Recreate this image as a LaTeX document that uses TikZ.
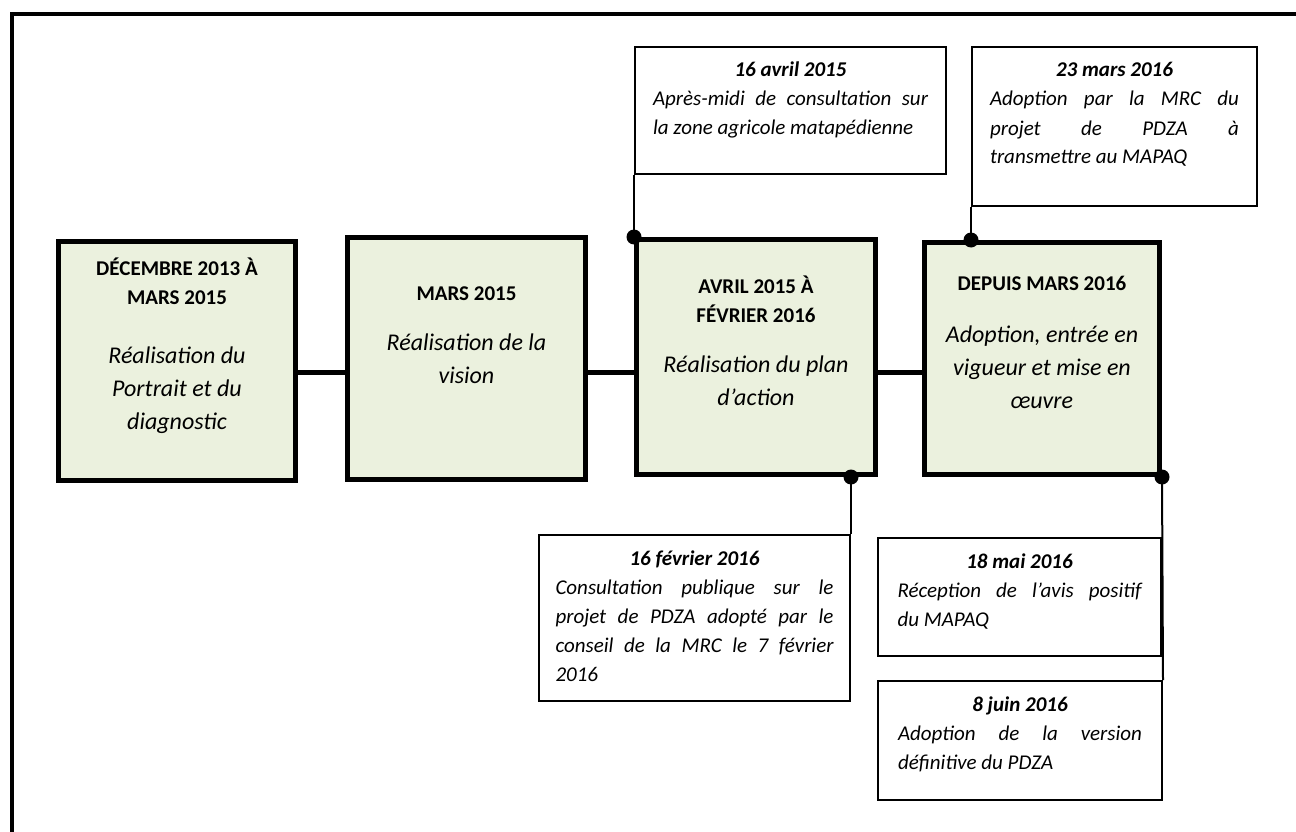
\documentclass[tikz,border=0pt]{standalone}
\usepackage{fontspec}
\setmainfont{Carlito}
\usepackage{xcolor}
\definecolor{phasefill}{HTML}{EBF1DE}

% text of a phase box: offset, gap, header, body
\newcommand{\phasetxt}[4]{%
  \begin{minipage}[c][220pt][t]{215pt}\centering
    \vspace*{#1}
    {\bfseries\rule{0pt}{18pt}#3\par}
    \vspace{#2}
    {\itshape\fontsize{24}{33}\selectfont #4\par}
  \end{minipage}}
% text of a note: height, width, date, body
\newcommand{\notetxt}[4]{%
  \begin{minipage}[c][\dimexpr#1-28pt\relax][t]{#2}
    \hyphenpenalty=10000 \exhyphenpenalty=10000 \tolerance=10000
    {\centering\bfseries\itshape\rule{0pt}{16pt}#3\par}
    {\itshape #4\par}
  \end{minipage}}

\begin{document}
\begin{tikzpicture}[x=1pt, y=-1pt,
  phase/.style={draw, line width=5pt, fill=phasefill, inner sep=0pt,
    anchor=north west, font=\fontsize{21}{29}\selectfont},
  note/.style={draw, line width=2pt, fill=white, inner sep=0pt,
    anchor=north west, font=\fontsize{21}{29}\selectfont},
  link/.style={line width=5pt},
  stem/.style={line width=2pt}]
  \def\r{7.5pt}

  \useasboundingbox (0,0) rectangle (1296,832);
  \draw[line width=4pt] (12,14.5) rectangle (1330,870);
  \coordinate (axis) at (0,372);

  % phases
  \node[phase, minimum width=237pt, minimum height=239pt] (p1) at (56,239)
    {\phasetxt{6pt}{26pt}{DÉCEMBRE 2013 À\\MARS 2015}{Réalisation du\\Portrait et du\\diagnostic}};
  \node[phase, minimum width=238pt, minimum height=242pt] (p2) at (345,235)
    {\phasetxt{33.5pt}{17pt}{MARS 2015}{Réalisation de la\\vision}};
  \node[phase, minimum width=239pt, minimum height=235pt] (p3) at (634,237)
    {\phasetxt{28pt}{17pt}{AVRIL 2015 À\\FÉVRIER 2016}{Réalisation du plan\\d’action}};
  \node[phase, minimum width=235pt, minimum height=232pt] (p4) at (922,240)
    {\phasetxt{23.5pt}{19pt}{DEPUIS MARS 2016}{Adoption, entrée en\\vigueur et mise en\\œuvre}};

  \foreach \a/\b in {p1/p2, p2/p3, p3/p4}
    \draw[link] (\a.east |- axis) -- (\b.west |- axis);

  % notes
  \node[note, minimum width=311pt, minimum height=127pt] (n1) at (634,46)
    {\notetxt{127pt}{275pt}{16 avril 2015}{Après-midi de consultation sur\linebreak la zone agricole matapédienne}};
  \node[note, minimum width=285pt, minimum height=159pt] (n2) at (971,46)
    {\notetxt{159pt}{249pt}{23 mars 2016}{Adoption par la MRC du\linebreak projet de PDZA à\linebreak transmettre au MAPAQ}};
  \node[note, minimum width=311pt, minimum height=166pt] (n3) at (538,534)
    {\notetxt{166pt}{278pt}{16 février 2016}{Consultation publique sur le\linebreak projet de PDZA adopté par le\linebreak conseil de la MRC le 7 février\linebreak 2016}};
  \node[note, minimum width=283pt, minimum height=118pt] (n4) at (877,537)
    {\notetxt{118pt}{244pt}{18 mai 2016}{Réception de l’avis positif\linebreak du MAPAQ}};
  \node[note, minimum width=284pt, minimum height=119pt] (n5) at (877,680)
    {\notetxt{119pt}{244pt}{8 juin 2016}{Adoption de la version\linebreak définitive du PDZA}};

  % stems and dots
  \coordinate (d1) at (p3.north west);
  \coordinate (d2) at (n2.south west |- p4.north);
  \coordinate (d3) at (p3.south -| n3.north east);
  \coordinate (d4) at (p4.south east);
  \draw[stem] (n1.south west) -- (d1);
  \draw[stem] (n2.south west) -- (d2);
  \draw[stem] (d3) -- (n3.north east);
  \draw[stem] (d4) -- (n5.north east);
  \foreach \d in {d1, d2, d3, d4}
    \fill (\d) circle[radius=\r];
\end{tikzpicture}
\end{document}
